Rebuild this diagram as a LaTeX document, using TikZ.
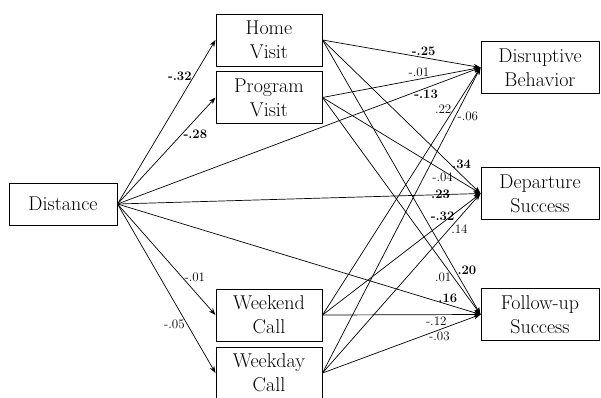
\documentclass[tikz,border=0pt]{standalone}
\usetikzlibrary{arrows.meta}

\begin{document}
\begin{tikzpicture}[
  x=1pt,y=-1pt,
  box/.style={draw,line width=1pt,align=center,inner sep=0pt,
    font=\fontsize{20}{24}\selectfont},
  med/.style={box,minimum width=106pt,minimum height=52pt},
  outc/.style={box,minimum width=118pt,minimum height=52pt},
  arr/.style={line width=.7pt,-{Stealth[length=7pt,width=5pt]}},
  lab/.style={font=\fontsize{13}{13}\selectfont,inner sep=2pt},
  online/.style={anchor=center},
  highabove/.style={above=4pt}]
  \useasboundingbox (0,0) rectangle (601,397);
  % predictor, mediators, outcomes
  \node[box,minimum width=108pt,minimum height=42pt] (dist) at (63,204) {Distance};
  \node[med] (home) at (269,40) {Home\\Visit};
  \node[med] (prog) at (269,97.5) {Program\\Visit};
  \node[med] (wend) at (269,315) {Weekend\\Call};
  \node[med] (wday) at (269,373) {Weekday\\Call};
  \node[outc] (disr) at (540,67.5) {Disruptive\\Behavior};
  \node[outc] (dep) at (540,193.5) {Departure\\Success};
  \node[outc] (fol) at (540,314.5) {Follow-up\\Success};

  % paths: from/to/pos/side/coefficient (bold = significant)
  \foreach \a/\b/\p/\w/\v in {
    dist/home/.78/left/\textbf{-.32},
    dist/prog/.65/right/\textbf{-.28},
    dist/wend/.66/right/-.01,
    dist/wday/.71/left/-.05,
    dist/disr/.85/below/\textbf{-.13},
    dist/dep/.89/online/\textbf{.23},
    dist/fol/.91/above/\textbf{.16},
    home/disr/.64/above/\textbf{-.25},
    home/dep/.88/highabove/\textbf{.34},
    home/fol/.84/right/\textbf{.20},
    prog/disr/.61/above/-.01,
    prog/dep/.76/below/-.04,
    prog/fol/.83/left/.01,
    wend/disr/.83/left/.22,
    wend/dep/.76/above/\textbf{-.32},
    wend/fol/.72/below/-.12,
    wday/disr/.84/right/-.06,
    wday/dep/.8/right/.14,
    wday/fol/.74/below/-.03} {
    \draw[arr] (\a.east) -- node[pos=\p,\w,lab] {\v} (\b.west);
  }
\end{tikzpicture}
\end{document}
